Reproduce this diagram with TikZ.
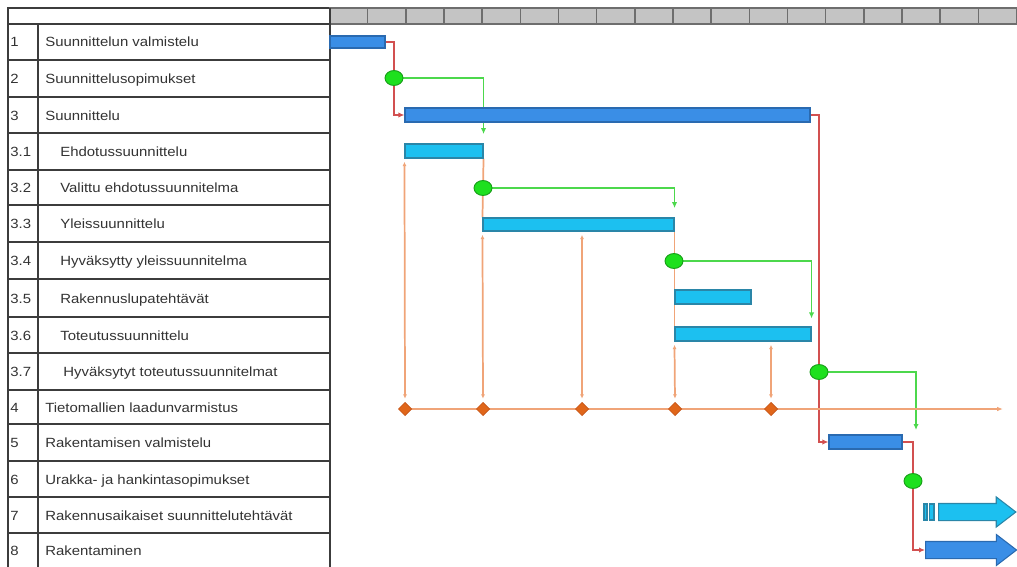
\documentclass[tikz,border=0pt]{standalone}
\usepackage{fontspec}
\setmainfont{Liberation Sans}
\usetikzlibrary{shapes.geometric,shapes.arrows,arrows.meta,fit,backgrounds}
\definecolor{darkfill}{HTML}{3A8EE6}
\definecolor{darkbord}{HTML}{2A6AB0}
\definecolor{lightfill}{HTML}{1CC0F0}
\definecolor{lightbord}{HTML}{2A86A8}
\definecolor{msfill}{HTML}{1EE01E}
\definecolor{msbord}{HTML}{199F19}
\definecolor{diafill}{HTML}{E0661A}
\definecolor{diabord}{HTML}{C4561A}
\definecolor{orangec}{HTML}{F0A478}
\definecolor{redc}{HTML}{D25050}
\definecolor{greenc}{HTML}{4CD84C}
\definecolor{hdrfill}{HTML}{C4C4C4}
\definecolor{hdrborder}{HTML}{6E6E6E}
\definecolor{tablec}{HTML}{3C3C3C}
\definecolor{txtc}{HTML}{333333}
\tikzset{
  tline/.style={draw=tablec, line width=0.9pt},
  hdrcell/.style={draw=hdrborder, fill=hdrfill, line width=1.1pt},
  lbl/.style={anchor=base west, inner sep=0pt, font=\fontsize{10}{12}\selectfont, text=txtc, xscale=1.12},
  darkbar/.style={draw=darkbord, fill=darkfill, line width=0.8pt, inner sep=0pt},
  lightbar/.style={draw=lightbord, fill=lightfill, line width=0.8pt, inner sep=0pt},
  milestone/.style={ellipse, draw=msbord, fill=msfill, line width=0.7pt, minimum width=13.5pt, minimum height=11.2pt, inner sep=0pt},
  qdiam/.style={diamond, draw=diabord, fill=diafill, line width=0.5pt, minimum width=10pt, minimum height=10pt, inner sep=0pt},
  redcon/.style={draw=redc, line width=1.1pt, -{Latex[length=4.5pt,width=4pt]}},
  greencon/.style={draw=greenc, line width=1.2pt, -{Latex[length=4.5pt,width=4pt]}},
  orangecon/.style={draw=orangec, line width=1.3pt},
  bothtip/.style={{Latex[length=3.2pt,width=3pt]}-{Latex[length=3.2pt,width=3pt]}, shorten <=2.5pt, shorten >=2.5pt},
  blockarrow/.style={single arrow, single arrow tip angle=75, inner xsep=0pt, inner ysep=6pt, anchor=west, line width=0.8pt},
}
\begin{document}
\begin{tikzpicture}[x=0.75pt,y=-0.75pt]
\useasboundingbox (0,0) rectangle (1017,567);

% header
\draw[tline] (8,8) rectangle (330,24);
\foreach \i in {0,...,17}{
  \draw[hdrcell] ({329.5+38.17*\i},8) rectangle ({329.5+38.17*(\i+1)},24);
}
% table lines
\foreach \yy in {60,97,133,170,205,242,279,317,353,390,424,461,497,533}{
  \draw[tline] (8,\yy) -- (330,\yy);
}
\draw[tline] (8,8) -- (8,567);
\draw[tline] (38,24) -- (38,567);
\draw[tline] (330,8) -- (330,567);

% labels
\foreach \n/\t/\x/\yc in {
  1/Suunnittelun valmistelu/45/42,
  2/Suunnittelusopimukset/45/78.5,
  3/Suunnittelu/45/115,
  3.1/Ehdotussuunnittelu/60/151.5,
  3.2/Valittu ehdotussuunnitelma/60/187.5,
  3.3/Yleissuunnittelu/60/223.5,
  3.4/Hyväksytty yleissuunnitelma/60/260.5,
  3.5/Rakennuslupatehtävät/60/298,
  3.6/Toteutussuunnittelu/60/335,
  3.7/Hyväksytyt toteutussuunnitelmat/63/371.5,
  4/Tietomallien laadunvarmistus/45/407,
  5/Rakentamisen valmistelu/45/442.5,
  6/Urakka- ja hankintasopimukset/45/479,
  7/Rakennusaikaiset suunnittelutehtävät/45/515,
  8/Rakentaminen/45/550}{
  \node[lbl] (n\n) at (10,\yc+5) {\n};
  \node[lbl] (t\n) at (\x,\yc+5) {\t};
}

% bars
\node[darkbar, fit={(330,36)(385,48)}] (b1) {};
\node[darkbar, fit={(405,108)(810,122)}] (b3) {};
\node[lightbar, fit={(405,144)(483,158)}] (b31) {};
\node[lightbar, fit={(483,218)(674,231)}] (b33) {};
\node[lightbar, fit={(675,290)(751,304)}] (b35) {};
\node[lightbar, fit={(675,327)(811,341)}] (b36) {};
\node[darkbar, fit={(829,435)(902,449)}] (b5) {};

% milestones
\node[milestone] (m2) at (394,78) {};
\node[milestone] (m32) at (483,188) {};
\node[milestone] (m34) at (674,261) {};
\node[milestone] (m37) at (819,372) {};
\node[milestone] (m6) at (913,481) {};

% quality diamonds
\node[qdiam] (d1) at (405,409) {};
\node[qdiam] (d2) at (483,409) {};
\node[qdiam] (d3) at (582,409) {};
\node[qdiam] (d4) at (675,409) {};
\node[qdiam] (d5) at (771,409) {};
\coordinate (tl) at (1003,409);
\coordinate (g4) at (916,430);

% block arrows rows 7 and 8
\node[lightbar, fit={(924,504)(927,520)}] (s7a) {};
\node[lightbar, fit={(929.5,504)(934,520)}] (s7b) {};
\node[blockarrow, draw=lightbord, fill=lightfill, single arrow head extend=4.9pt, minimum height=58pt] (a7) at (938,512) {};
\node[blockarrow, draw=darkbord, fill=darkfill, single arrow head extend=5.25pt, minimum height=68.25pt] (a8) at (925,550) {};

\begin{scope}[on background layer]
% red dependencies
\draw[redcon] (b1.east) -| (m2.center) |- (b3.west);
\draw[redcon] (b3.east) -| (m37.center) |- (b5.west);
\draw[redcon] (b5.east) -| (m6.center) |- (a8.west);
% green
\draw[greencon, shorten >=7pt] (m2.east) -| (b31.north east);
\draw[greencon, shorten >=7pt] (m32.east) -| (b33.north east);
\draw[greencon, shorten >=6pt] (m34.east) -| (b36.north east);
\draw[greencon] (m37.east) -| (g4);
% orange quality
\draw[orangecon, -{Latex[length=4.5pt,width=3.5pt]}] (d1.center) -- (tl);
\draw[orangecon, bothtip] (b31.south west) -- (d1.north);
\draw[orangecon] (b31.south east) -- (b33.north west);
\draw[orangecon, bothtip] (b33.south west) -- (d2.north);
\draw[orangecon, bothtip] (b33.south -| d3) -- (d3.north);
\draw[orangecon] (b33.south -| b36.west) -- (b36.north west);
\draw[orangecon, bothtip] (b36.south west) -- (d4.north);
\draw[orangecon, bothtip] (b36.south -| d5) -- (d5.north);
\end{scope}
\end{tikzpicture}
\end{document}
